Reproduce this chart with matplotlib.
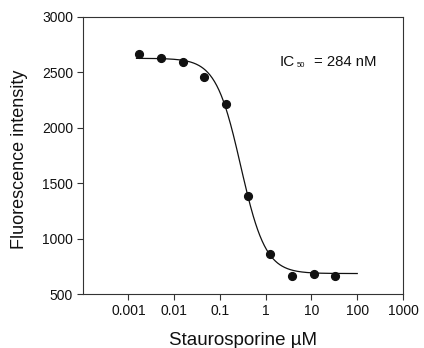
import numpy as np
import matplotlib
matplotlib.use("Agg")
import matplotlib.pyplot as plt
from matplotlib.ticker import FixedLocator, NullLocator

plt.rcParams['font.family'] = ['Liberation Sans', 'DejaVu Sans']

# Data
conc_uM = [0.00169, 0.0051, 0.0152, 0.0457, 0.137, 0.41, 1.23, 3.7, 11.1, 33.3]
fluor = [2663, 2624, 2591, 2453, 2216, 1383, 861, 662, 677, 659]

# Fitted 4-parameter logistic curve parameters
fit_top = 2625
fit_bottom = 685
fit_ic50 = 0.284
fit_hill = 1.6
fit_range = [0.0015, 100]

xticks = [0.001, 0.01, 0.1, 1, 10, 100, 1000]
xticklabels = ["0.001", "0.01", "0.1", "1", "10", "100", "1000"]
yticks = [500, 1000, 1500, 2000, 2500, 3000]

fig = plt.figure(figsize=(4.24, 3.48), dpi=100)
ax = fig.add_axes([0.195, 0.155, 0.7555, 0.797])

xc = np.logspace(np.log10(fit_range[0]), np.log10(fit_range[1]), 400)
yc = fit_bottom + (fit_top - fit_bottom) / (1 + (xc / fit_ic50) ** fit_hill)
ax.plot(xc, yc, color='#111111', lw=0.9, zorder=2)
ax.plot(conc_uM, fluor, 'o', color='#111111', ms=5.6, zorder=3)

ax.set_xscale('log')
ax.set_xlim(1e-4, 1e3)
ax.set_ylim(500, 3000)
ax.xaxis.set_major_locator(FixedLocator(xticks))
ax.xaxis.set_minor_locator(NullLocator())
ax.set_xticklabels(xticklabels)
ax.set_yticks(yticks)

for s in ax.spines.values():
    s.set_linewidth(0.8)
    s.set_color('#333333')
ax.tick_params(axis='both', direction='out', length=4, width=0.8, color='#333333',
               labelsize=10, pad=3, labelcolor='#111111')

ax.set_ylabel("Fluorescence intensity", fontsize=13, color='#111111')
ax.yaxis.set_label_coords(-0.172, 0.485)
ax.set_xlabel("Staurosporine \u00b5M", fontsize=13.5, labelpad=10, color='#111111')

fig.text(280/424, 1-65.7/348, "IC", fontsize=11, color='#111111')
fig.text(297/424, 1-67/348, "50", fontsize=5.5, color='#111111')
fig.text(314/424, 1-65.7/348, "= 284 nM", fontsize=10.7, color='#111111')

fig.savefig("out.png", dpi=100)
